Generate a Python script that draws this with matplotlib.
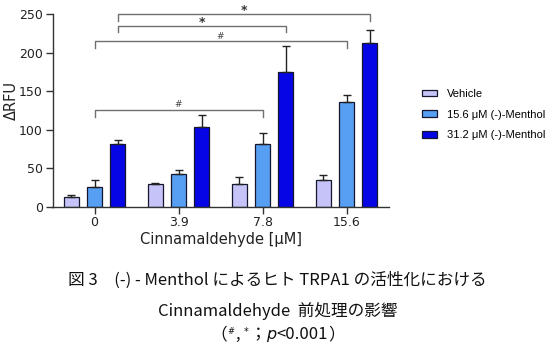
import numpy as np
import matplotlib
matplotlib.use("Agg")
import matplotlib.pyplot as plt
from matplotlib import font_manager

# data
doses = ["0", "3.9", "7.8", "15.6"]
series = ["Vehicle", "15.6 \u03bcM (-)-Menthol", "31.2 \u03bcM (-)-Menthol"]
vehicle = [12, 29, 30, 34]
vehicle_err = [3.5, 2, 8, 6.5]
menthol_156 = [25, 43, 81, 136]
menthol_156_err = [9, 4, 14, 9]
menthol_312 = [81, 103, 175, 213]
menthol_312_err = [6, 15.5, 33, 16.5]

# significance brackets: (group a, group b, series index, height, label)
brackets = [
    (0, 3, 2, 250, "*"),
    (0, 2, 2, 235, "*"),
    (0, 3, 1, 215, "#"),
    (0, 2, 1, 126, "#"),
]

colors = ["#c6c3f8", "#569ff2", "#0505e6"]

names = {f.name for f in font_manager.fontManager.ttflist}
if "Liberation Sans Narrow" in names:
    axfont = "Liberation Sans Narrow"
    tick_fs, lab_fs = 11.5, 13
else:
    axfont = "DejaVu Sans"
    tick_fs, lab_fs = 9, 10.5
cjk = ["Noto Sans CJK JP", "DejaVu Sans"]

W, H = 555, 352
fig = plt.figure(figsize=(W / 100, H / 100), dpi=100)
ax = fig.add_axes([52.5 / W, 145.3 / H, 336 / W, 192.7 / H])

x = np.arange(len(doses))
step = 0.274
bw = 0.18
vals = [vehicle, menthol_156, menthol_312]
errs = [vehicle_err, menthol_156_err, menthol_312_err]
bars = []
for i in range(3):
    pos = x + (i - 1) * step
    b = ax.bar(pos, vals[i], bw, color=colors[i], edgecolor="#15152e",
               linewidth=0.9, zorder=2, label=series[i])
    bars.append(b)
    ax.errorbar(pos, vals[i], yerr=[np.zeros(len(doses)), errs[i]], fmt="none",
                ecolor="#222222", elinewidth=1.0, capsize=2.6, capthick=1.0, zorder=3)

for ga, gb, s, h, lab in brackets:
    xa = ga + (s - 1) * step
    xb = gb + (s - 1) * step
    drop = 9
    ax.plot([xa, xa, xb, xb], [h - drop, h, h, h - drop], color="#707070",
            lw=1.0, clip_on=False, zorder=4)
    if lab == "*":
        ax.annotate(lab, ((xa + xb) / 2, h), xytext=(0, 0), textcoords="offset points",
                    ha="center", va="baseline", fontsize=9, fontweight="bold",
                    color="#333333", annotation_clip=False)
    else:
        ax.annotate(lab, ((xa + xb) / 2, h), xytext=(0, 1.5), textcoords="offset points",
                    ha="center", va="baseline", fontsize=6.5, color="#444444",
                    annotation_clip=False)

ax.set_xlim(-0.5, 3.5)
ax.set_ylim(0, 250)
ax.set_yticks(np.arange(0, 251, 50))
ax.set_xticks(x)
ax.set_xticklabels(doses)
for sp in ["top", "right"]:
    ax.spines[sp].set_visible(False)
for sp in ["left", "bottom"]:
    ax.spines[sp].set_color("#333333")
    ax.spines[sp].set_linewidth(1.0)
ax.tick_params(direction="out", length=5, width=1.0, color="#333333",
               labelsize=tick_fs, labelcolor="#222222", pad=2)
for t in ax.get_xticklabels() + ax.get_yticklabels():
    t.set_fontfamily(axfont)
ax.set_xlabel("Cinnamaldehyde [\u03bcM]", fontsize=lab_fs, family=axfont,
              color="#222222", labelpad=2)
ax.set_ylabel("\u0394RFU", fontsize=lab_fs, family=axfont, color="#222222")
ax.yaxis.set_label_coords(-0.1, 0.55)

ax.legend(handles=bars, labels=series, loc="upper left",
          bbox_to_anchor=(422 / W, 1 - 89 / H), bbox_transform=fig.transFigure,
          frameon=False, prop={"family": "Liberation Sans", "size": 8},
          handlelength=1.35, handleheight=0.55, handletextpad=0.9,
          labelspacing=0.95, borderpad=0, borderaxespad=0)

# caption
fig.text(0.5, 1 - 280 / H, "\u56f3 3\u3000(-) - Menthol \u306b\u3088\u308b\u30d2\u30c8 TRPA1 \u306e\u6d3b\u6027\u5316\u306b\u304a\u3051\u308b",
         ha="center", va="center", family=cjk, fontsize=12, color="#111111")
fig.text(0.5, 1 - 311 / H, "Cinnamaldehyde  \u524d\u51e6\u7406\u306e\u5f71\u97ff",
         ha="center", va="center", family=cjk, fontsize=12, color="#111111")

pieces = [
    ("\uff08", dict(family=cjk, fontsize=12), 0, 0),
    ("#", dict(family="DejaVu Sans", fontsize=6), 5, 1),
    (",", dict(family=cjk, fontsize=12), 0, 4),
    ("*", dict(family="DejaVu Sans", fontsize=7), 4, 1),
    ("\uff1b", dict(family=cjk, fontsize=12), 0, 0),
    ("p", dict(family="DejaVu Sans", fontsize=11.5, style="italic"), 0, 0),
    ("<0.001", dict(family=cjk, fontsize=12), 0, 0),
    ("\uff09", dict(family=cjk, fontsize=12), 0, 0),
]
base = 1 - 339 / H
texts = []
for s, kw, dy, gap in pieces:
    texts.append(fig.text(0, base + dy / H, s, ha="left", va="baseline",
                          color="#111111", **kw))
r = fig.canvas.get_renderer()
widths = [t.get_window_extent(r).width for t in texts]
gaps = [p[3] for p in pieces]
total = sum(widths) + sum(gaps)
cur = W / 2 - total / 2
for t, w, g in zip(texts, widths, gaps):
    t.set_x(cur / W)
    cur += w + g

fig.savefig("out.png", dpi=100)
